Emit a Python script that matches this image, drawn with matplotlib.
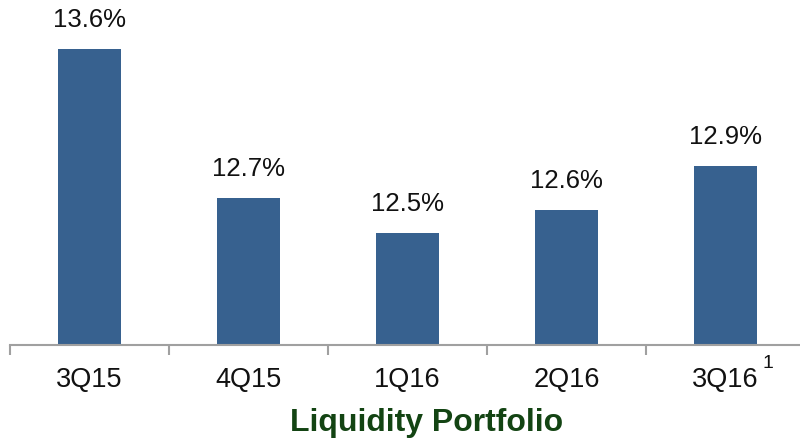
import matplotlib
matplotlib.use('Agg')
import matplotlib.pyplot as plt

plt.rcParams['font.family'] = ['Liberation Sans', 'DejaVu Sans']

# Данные
quarters = ['3Q15', '4Q15', '1Q16', '2Q16', '3Q16']
ratios = [13.6, 12.71, 12.5, 12.64, 12.9]

W, H = 800, 442
fig = plt.figure(figsize=(8, 4.42), dpi=100)
ax = fig.add_axes([10 / W, 1 - 345 / H, 795 / W, 345 / H])

x = range(len(quarters))
ax.bar(x, ratios, width=0.4, color='#37618F', zorder=2)

for xi, v in zip(x, ratios):
    ax.annotate(f'{v:.1f}%', (xi, v), xytext=(0, 16), textcoords='offset points',
                ha='center', va='baseline', fontsize=18.5, color='#111111')

ax.set_xlim(-0.5, len(quarters) - 0.5)
ax.set_ylim(11.83, 11.83 + 345 / 167)

# Ось X
for s in ['top', 'right', 'left']:
    ax.spines[s].set_visible(False)
ax.spines['bottom'].set_color('#A0A0A0')
ax.spines['bottom'].set_linewidth(1.5)
ax.set_yticks([])
ax.set_xticks([i - 0.5 for i in range(len(quarters) + 1)])
ax.set_xticklabels([])
ax.tick_params(axis='x', length=7, width=1.5, color='#A0A0A0', direction='out')

for xi, q in zip(x, quarters):
    ax.text(xi, -0.1, q, transform=ax.get_xaxis_transform(), ha='center', va='center',
            fontsize=19.5, color='#111111')

# Сноска
fig.text(768 / W, 1 - 364 / H, '1', ha='center', va='center', fontsize=14, color='#111111')

# Подпись
fig.text(427 / W, 1 - 423 / H, 'Liquidity Portfolio', ha='center', va='center',
         fontsize=23, fontweight='bold', color='#134413')

fig.savefig('out.png', dpi=100)
